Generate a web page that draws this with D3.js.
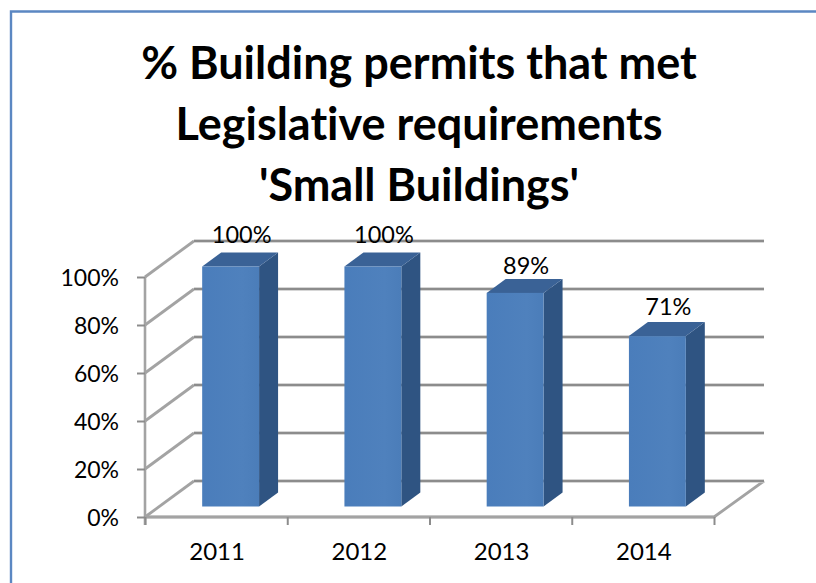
<!DOCTYPE html>
<html>
<head>
<meta charset="utf-8">
<script src="https://cdn.jsdelivr.net/npm/d3@7/dist/d3.min.js"></script>
<style>
html,body{margin:0;padding:0;background:#fff}
svg{display:block}
text{font-family:Lato,"Open Sans",sans-serif;fill:#000;font-variant-ligatures:none}
</style>
</head>
<body>
<svg id="chart" width="816" height="583"></svg>
<script>
const titleLines = ["% Building permits that met", "Legislative requirements", "'Small Buildings'"];
const years = ["2011", "2012", "2013", "2014"];
const permitShare = [100, 100, 89, 71];
const shareTicks = [0, 20, 40, 60, 80, 100];

const svg = d3.select("#chart");
const frame = {left: 145, right: 714, top: 277, bottom: 517};
const wallDepth = {dx: 49, dy: -36};
const barDepth = {dx: 19, dy: -14};
const barLift = {dx: 14.5, dy: -10.5};
const gridColor = "#8c8c8c";
const gridHalo = "#c9c9c9";
const edgeColor = "#a3a3a3";

const x = d3.scaleBand().domain(years).range([frame.left, frame.right]).paddingInner(0.6).paddingOuter(0.3);
const y = d3.scaleLinear().domain([0, 100]).range([frame.bottom, frame.top]);

const defs = svg.append("defs");
const faceFill = defs.append("linearGradient").attr("id", "face");
faceFill.append("stop").attr("offset", "0").attr("stop-color", "#4a7dbb");
faceFill.append("stop").attr("offset", "0.7").attr("stop-color", "#4f81bd");
faceFill.append("stop").attr("offset", "1").attr("stop-color", "#4b7db9");

// outer border: only the top and left edges fall inside the page
svg.append("path").attr("d", "M816,11.5H11V583")
  .attr("fill", "none").attr("stroke", "#5b87c2").attr("stroke-width", 2.4);

// title
svg.append("g").selectAll("text").data(titleLines).join("text")
  .attr("x", 419).attr("y", (d, i) => 79 + i * 61)
  .attr("text-anchor", "middle").attr("font-size", 45).attr("font-weight", 700)
  .text(d => d);

// slanted side-wall segments and the floor edges
const sidePath = d => {
  const p = d3.path();
  p.moveTo(frame.left, y(d));
  p.lineTo(frame.left + wallDepth.dx, y(d) + wallDepth.dy);
  return p.toString();
};
const floor = d3.path();
floor.moveTo(frame.left, frame.bottom);
floor.lineTo(frame.right, frame.bottom);
floor.lineTo(frame.right + wallDepth.dx + 1, frame.bottom + wallDepth.dy);

const edges = svg.append("g").attr("fill", "none").attr("stroke", edgeColor).attr("stroke-width", 2.8);
edges.selectAll("path").data(shareTicks).join("path").attr("d", sidePath);
edges.append("path").attr("d", floor.toString());

// back wall gridlines
[[gridHalo, 3.6], [gridColor, 2]].forEach(([color, width]) => {
  svg.append("g").attr("fill", "none").attr("stroke", color).attr("stroke-width", width)
    .selectAll("path").data(shareTicks).join("path")
    .attr("d", d => `M${frame.left + wallDepth.dx},${y(d) + wallDepth.dy}H${frame.right + wallDepth.dx + 1}`);
});

// axes
const yAxis = svg.append("g").attr("transform", `translate(${frame.left},0)`)
  .call(d3.axisLeft(y).tickValues(shareTicks).tickSize(8).tickPadding(18).tickFormat(d => d + "%"));
const xAxis = svg.append("g").attr("transform", `translate(0,${frame.bottom})`)
  .call(d3.axisBottom(d3.scalePoint().domain(d3.range(5)).range([frame.left, frame.right])).tickSize(8).tickFormat(""));
[yAxis, xAxis].forEach(a => {
  a.selectAll("path.domain").attr("stroke", edgeColor).attr("stroke-width", 2.6);
  a.selectAll("line").attr("stroke", gridColor).attr("stroke-width", 2);
});
yAxis.select("path.domain").attr("d", `M0,${y(100)}V${y(0) + 8}`);
yAxis.selectAll("text").attr("font-size", 23).attr("font-family", "Lato").attr("dy", "0.39em");
xAxis.select("path.domain").attr("d", `M${frame.left},0H${frame.right}`);

// year labels
svg.append("g").selectAll("text").data(years).join("text")
  .attr("x", d => x(d) + x.bandwidth() / 2 + 1)
  .attr("y", 560).attr("text-anchor", "middle").attr("font-size", 24)
  .text(d => d);

// 3D columns: front, top and side faces
const bars = svg.append("g").selectAll("g").data(years.map((year, i) => ({year, share: permitShare[i], i}))).join("g");
const barLeft = d => x(d.year) + barLift.dx;
const barRight = d => x(d.year) + x.bandwidth() + barLift.dx;
const barTop = d => y(d.share) + barLift.dy;
const barBase = barLift.dy + frame.bottom;
const poly = pts => "M" + pts.map(p => p.join(",")).join("L") + "Z";

bars.append("path").attr("fill", "#2f5482")
  .attr("d", d => poly([[barRight(d), barTop(d)], [barRight(d) + barDepth.dx, barTop(d) + barDepth.dy],
    [barRight(d) + barDepth.dx, barBase + barDepth.dy], [barRight(d), barBase]]));
bars.append("path").attr("fill", "#3a6296")
  .attr("d", d => poly([[barLeft(d), barTop(d)], [barLeft(d) + barDepth.dx, barTop(d) + barDepth.dy],
    [barRight(d) + barDepth.dx, barTop(d) + barDepth.dy], [barRight(d), barTop(d)]]));
bars.append("rect").attr("fill", "url(#face)")
  .attr("x", barLeft).attr("y", barTop)
  .attr("width", x.bandwidth()).attr("height", d => barBase - barTop(d));

// value labels above each column; the gap tightens on the shorter columns
const labelGap = [10, 10, 4.5, 7];
bars.append("text")
  .attr("x", d => barLeft(d) + x.bandwidth() / 2 + 11)
  .attr("y", d => barTop(d) + barDepth.dy - labelGap[d.i])
  .attr("text-anchor", "middle").attr("font-size", 23.5)
  .text(d => d.share + "%");
</script>
</body>
</html>
